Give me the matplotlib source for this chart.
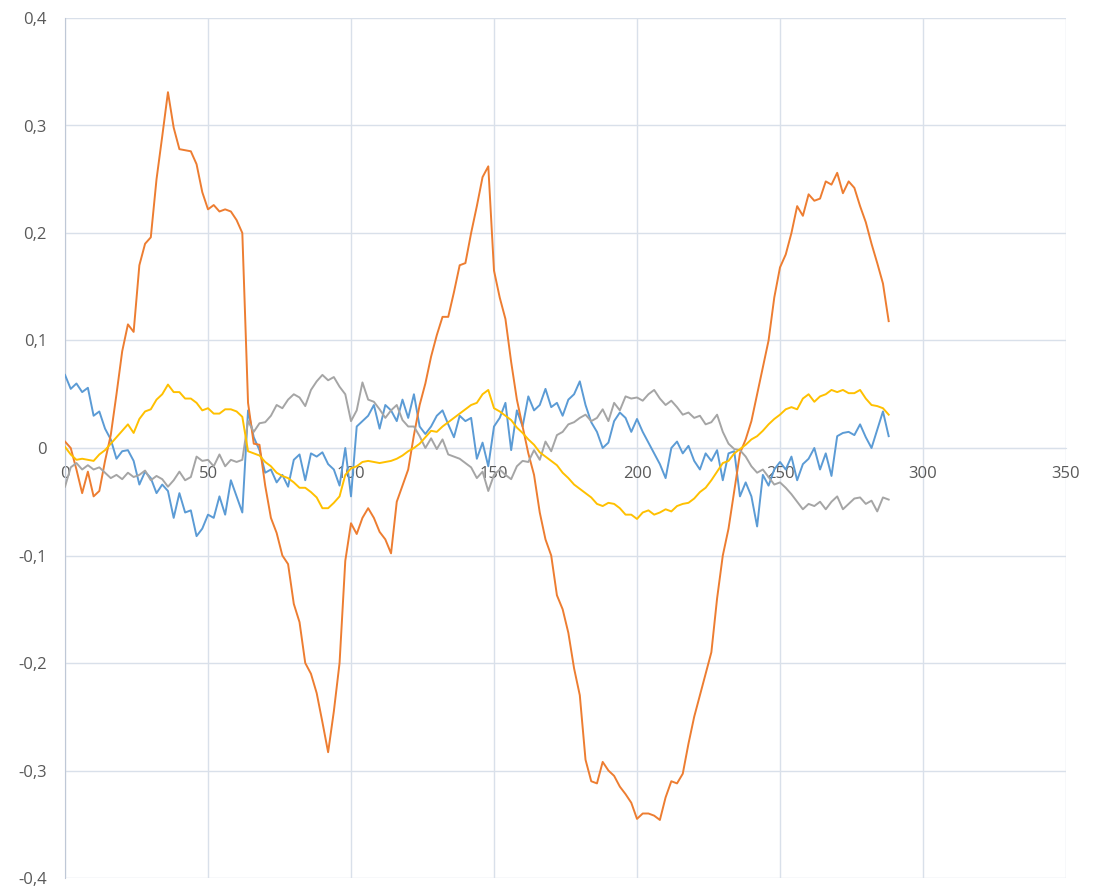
import numpy as np
import matplotlib
matplotlib.use('Agg')
import matplotlib.pyplot as plt

plt.rcParams['font.family'] = ['Open Sans', 'DejaVu Sans']

# sample index (every second point)
x_vals = np.arange(0, 289, 2)

blue = [0.068, 0.055, 0.06, 0.052, 0.056, 0.03, 0.034, 0.018, 0.008, -0.01,
        -0.003, -0.002, -0.012, -0.034, -0.022, -0.028, -0.042, -0.034, -0.04, -0.065,
        -0.042, -0.06, -0.058, -0.082, -0.075, -0.062, -0.065, -0.045, -0.062, -0.03,
        -0.045, -0.06, 0.035, 0.01, -0.002, -0.023, -0.02, -0.032, -0.025, -0.036,
        -0.011, -0.006, -0.03, -0.005, -0.008, -0.004, -0.015, -0.02, -0.035, 0.0,
        -0.045, 0.02, 0.025, 0.03, 0.04, 0.018, 0.04, 0.035, 0.025, 0.045,
        0.028, 0.05, 0.02, 0.013, 0.02, 0.03, 0.035, 0.022, 0.01, 0.03,
        0.025, 0.028, -0.01, 0.005, -0.017, 0.02, 0.028, 0.042, -0.002, 0.035,
        0.02, 0.048, 0.035, 0.04, 0.055, 0.038, 0.042, 0.03, 0.045, 0.05,
        0.062, 0.04, 0.024, 0.015, 0.0, 0.005, 0.025, 0.033, 0.028, 0.015,
        0.027, 0.015, 0.005, -0.005, -0.015, -0.028, 0.0, 0.006, -0.005, 0.002,
        -0.012, -0.02, -0.005, -0.012, -0.002, -0.03, -0.005, -0.003, -0.045, -0.032,
        -0.045, -0.073, -0.025, -0.035, -0.02, -0.013, -0.02, -0.008, -0.03, -0.015,
        -0.01, 0.0, -0.02, -0.005, -0.026, 0.011, 0.014, 0.015, 0.012, 0.022,
        0.01, 0.0, 0.017, 0.034, 0.011]

orange = [0.006, 0.0, -0.02, -0.042, -0.022, -0.045, -0.04, -0.012, 0.012, 0.05,
          0.09, 0.115, 0.108, 0.17, 0.19, 0.196, 0.25, 0.29, 0.331, 0.298,
          0.278, 0.277, 0.276, 0.264, 0.238, 0.222, 0.226, 0.22, 0.222, 0.22,
          0.212, 0.2, 0.042, 0.004, 0.003, -0.035, -0.065, -0.079, -0.1, -0.108,
          -0.145, -0.162, -0.2, -0.21, -0.228, -0.255, -0.283, -0.245, -0.2, -0.105,
          -0.07, -0.08, -0.065, -0.056, -0.065, -0.078, -0.085, -0.098, -0.05, -0.035,
          -0.02, 0.012, 0.04, 0.06, 0.085, 0.105, 0.122, 0.122, 0.145, 0.17,
          0.172, 0.2, 0.225, 0.252, 0.262, 0.165, 0.14, 0.12, 0.08, 0.045,
          0.02, -0.005, -0.025, -0.06, -0.085, -0.1, -0.137, -0.15, -0.172, -0.205,
          -0.23, -0.29, -0.31, -0.312, -0.292, -0.3, -0.305, -0.315, -0.322, -0.33,
          -0.345, -0.34, -0.34, -0.342, -0.346, -0.325, -0.31, -0.312, -0.303, -0.275,
          -0.25, -0.23, -0.21, -0.19, -0.14, -0.1, -0.075, -0.04, -0.005, 0.008,
          0.025, 0.05, 0.075, 0.1, 0.14, 0.168, 0.18, 0.2, 0.225, 0.216,
          0.236, 0.23, 0.232, 0.248, 0.245, 0.256, 0.237, 0.248, 0.242, 0.225,
          0.21, 0.19, 0.172, 0.153, 0.118]

gray = [-0.036, -0.018, -0.014, -0.02, -0.016, -0.02, -0.018, -0.023, -0.028, -0.025,
        -0.029, -0.023, -0.027, -0.025, -0.021, -0.03, -0.026, -0.029, -0.036, -0.03,
        -0.022, -0.03, -0.027, -0.008, -0.012, -0.011, -0.017, -0.006, -0.017, -0.011,
        -0.013, -0.011, 0.025, 0.015, 0.023, 0.024, 0.03, 0.04, 0.037, 0.045,
        0.05, 0.047, 0.039, 0.054, 0.062, 0.068, 0.063, 0.066, 0.057, 0.05,
        0.025, 0.035, 0.061, 0.045, 0.043, 0.036, 0.028, 0.035, 0.04, 0.026,
        0.02, 0.02, 0.011, 0.0, 0.009, -0.001, 0.008, -0.006, -0.008, -0.01,
        -0.014, -0.018, -0.028, -0.022, -0.04, -0.025, -0.02, -0.025, -0.029, -0.017,
        -0.012, -0.013, -0.002, -0.011, 0.006, -0.003, 0.012, 0.015, 0.022, 0.024,
        0.028, 0.031, 0.025, 0.028, 0.036, 0.025, 0.042, 0.035, 0.048, 0.046,
        0.047, 0.044, 0.05, 0.054, 0.046, 0.04, 0.044, 0.038, 0.031, 0.033,
        0.028, 0.03, 0.022, 0.024, 0.031, 0.015, 0.004, -0.001, -0.002, -0.008,
        -0.017, -0.023, -0.02, -0.027, -0.034, -0.032, -0.037, -0.043, -0.05, -0.057,
        -0.052, -0.054, -0.05, -0.057, -0.05, -0.045, -0.057, -0.052, -0.047, -0.046,
        -0.052, -0.049, -0.059, -0.046, -0.048]

yellow = [0.001, -0.006, -0.011, -0.01, -0.011, -0.012, -0.006, -0.002, 0.004, 0.01,
          0.016, 0.022, 0.014, 0.027, 0.034, 0.036, 0.045, 0.05, 0.059, 0.052,
          0.052, 0.046, 0.046, 0.042, 0.035, 0.037, 0.032, 0.032, 0.036, 0.036,
          0.034, 0.029, -0.003, -0.005, -0.007, -0.013, -0.017, -0.023, -0.026, -0.028,
          -0.032, -0.037, -0.037, -0.041, -0.046, -0.056, -0.056, -0.051, -0.045, -0.025,
          -0.019, -0.017, -0.013, -0.012, -0.013, -0.014, -0.013, -0.012, -0.01, -0.007,
          -0.003, 0.0, 0.004, 0.01, 0.016, 0.015, 0.02, 0.024, 0.028, 0.032,
          0.036, 0.04, 0.042, 0.05, 0.054, 0.037, 0.034, 0.03, 0.026, 0.019,
          0.014, 0.008, 0.003, -0.004, -0.008, -0.012, -0.016, -0.023, -0.028, -0.034,
          -0.038, -0.042, -0.046, -0.052, -0.054, -0.051, -0.052, -0.056, -0.062, -0.062,
          -0.066, -0.06, -0.058, -0.062, -0.06, -0.057, -0.059, -0.054, -0.052, -0.051,
          -0.047, -0.041, -0.037, -0.03, -0.022, -0.014, -0.012, -0.005, -0.001, 0.003,
          0.008, 0.011, 0.016, 0.022, 0.027, 0.031, 0.036, 0.038, 0.036, 0.046,
          0.05, 0.043, 0.048, 0.05, 0.054, 0.052, 0.054, 0.051, 0.051, 0.054,
          0.046, 0.04, 0.039, 0.037, 0.031]

x_ticks = [0, 50, 100, 150, 200, 250, 300, 350]
y_ticks = [-0.4, -0.3, -0.2, -0.1, 0.0, 0.1, 0.2, 0.3, 0.4]
y_tick_labels = ['-0,4', '-0,3', '-0,2', '-0,1', '0', '0,1', '0,2', '0,3', '0,4']

series_colors = ['#5B9BD5', '#ED7D31', '#A5A5A5', '#FFC000']
grid_color = '#d9e0ea'
text_color = '#595959'

fig = plt.figure(figsize=(10.96, 8.88), dpi=100)
ax = fig.add_axes([65 / 1096, 10 / 888, 1001 / 1096, 860 / 888])

for ys, c in zip([blue, orange, gray, yellow], series_colors):
    ax.plot(x_vals, ys, color=c, lw=1.4, zorder=3)

ax.set_xlim(0, 350)
ax.set_ylim(-0.4, 0.4)
ax.set_xticks(x_ticks)
ax.set_xticklabels([str(t) for t in x_ticks])
ax.set_yticks(y_ticks)
ax.set_yticklabels(y_tick_labels)

ax.grid(True, color=grid_color, lw=1.0, zorder=0)
ax.set_axisbelow(True)

# horizontal axis crosses at y = 0, as in Excel
ax.spines['bottom'].set_position(('data', 0))
ax.spines['bottom'].set_color(grid_color)
ax.spines['left'].set_color('#bfc8d6')
ax.spines['top'].set_visible(False)
ax.spines['right'].set_visible(False)

ax.tick_params(length=0, colors=text_color, labelsize=12)
ax.tick_params(axis='x', pad=13)
ax.tick_params(axis='y', pad=13)

fig.savefig('out.png', dpi=100)
